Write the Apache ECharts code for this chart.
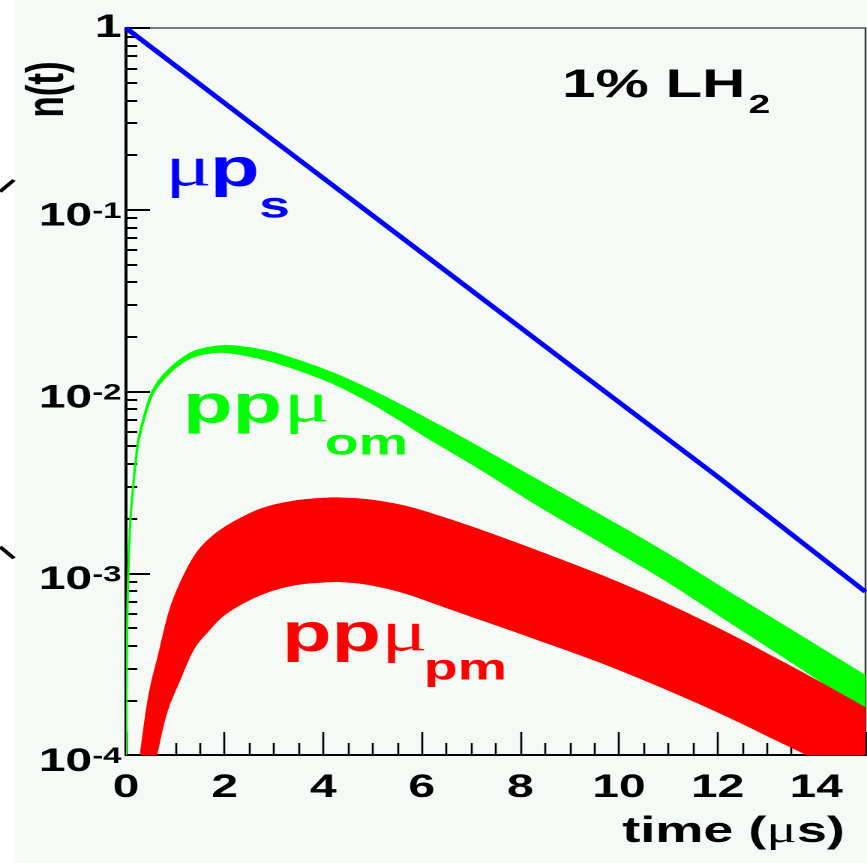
<!DOCTYPE html>
<html>
<head>
<meta charset="utf-8">
<script src="https://cdn.jsdelivr.net/npm/echarts@6/dist/echarts.min.js"></script>
<style>
  html, body { margin: 0; padding: 0; background: #ffffff; }
  #frame { position: relative; width: 867px; height: 863px; overflow: hidden; background: #f5faf7; }
  /* the plot is laid out on a narrow canvas and widened 1.5x, like the wide ROOT lettering */
  #chart { position: absolute; left: 0; top: 0; width: 578px; height: 863px;
           transform: scaleX(1.5); transform-origin: 0 0; }
</style>
</head>
<body>
<div id="frame"><div id="chart"></div></div>
<script>
// ---- muonic populations n(t) in 1% liquid hydrogen ----

// mu-p singlet atoms (straight exponential decay on the log scale)
const mupTime = [0, 3, 6, 9, 12, 15];
const mupN    = [1, 0.24, 0.058, 0.0140, 0.0034, 0.00079];

// ortho pp-mu molecules: upper / lower edge of the band
const omTime  = [0, 0.03, 0.08, 0.14, 0.22, 0.28, 0.42, 0.55, 0.75, 1.04, 1.36, 1.77, 2.17, 2.85,
                 3.46, 4.14, 4.81, 5.49, 6.16, 6.84, 7.51, 8.39, 9.61, 10.97, 12.30, 13.66, 15.0];
const omUpper = [1e-4, 6.6e-4, 1.77e-3, 2.94e-3, 4.77e-3, 5.91e-3, 8.22e-3, 0.0102, 0.0122, 0.0145,
                 0.0165, 0.0176, 0.01779, 0.01670, 0.01491, 0.01280, 0.01065, 0.00864, 0.00692,
                 0.00551, 0.00436, 0.00320, 0.00209, 0.00128, 0.000764, 0.000455, 0.000272];
const omLower = [1e-4, 6.35e-4, 1.73e-3, 2.87e-3, 4.62e-3, 5.73e-3, 7.91e-3, 0.0098, 0.0116, 0.0138,
                 0.0155, 0.0164, 0.01628, 0.01491, 0.01325, 0.01128, 0.00918, 0.00715, 0.00549,
                 0.00428, 0.00331, 0.00234, 0.00150, 0.000907, 0.000529, 0.000305, 0.000175];

// para pp-mu molecules: upper and lower edge of the band
const pmUpperTime = [0.30, 0.47, 0.68, 0.88, 1.08, 1.35, 1.62, 2.03, 2.70, 3.38, 4.05, 4.46, 5.01,
                     5.69, 6.37, 7.04, 7.72, 8.39, 9.07, 9.75, 10.42, 11.09, 11.77, 12.45, 13.12,
                     13.80, 15.0];
const pmUpper     = [1.0e-4, 2.09e-4, 3.64e-4, 6.04e-4, 8.44e-4, 1.18e-3, 1.47e-3, 1.80e-3, 2.23e-3,
                     2.48e-3, 2.58e-3, 2.58e-3, 2.51e-3, 2.323e-3, 2.047e-3, 1.780e-3, 1.529e-3,
                     1.309e-3, 1.114e-3, 9.43e-4, 7.90e-4, 6.53e-4, 5.33e-4, 4.31e-4, 3.45e-4,
                     2.75e-4, 1.81e-4];
const pmLowerTime = [0.61, 0.81, 1.08, 1.35, 1.62, 2.03, 2.70, 3.38, 4.05, 4.46, 5.01, 5.69, 6.37,
                     7.04, 7.72, 8.39, 9.07, 9.75, 10.42, 11.09, 11.77, 12.45, 13.12, 13.80, 15.0];
const pmLower     = [1.0e-4, 1.70e-4, 2.59e-4, 3.78e-4, 4.69e-4, 6.04e-4, 7.59e-4, 8.62e-4, 8.99e-4,
                     8.99e-4, 8.62e-4, 7.76e-4, 6.69e-4, 5.77e-4, 4.98e-4, 4.29e-4, 3.69e-4, 3.15e-4,
                     2.66e-4, 2.23e-4, 1.85e-4, 1.52e-4, 1.24e-4, 1.01e-4, 7.0e-5];

// axis ranges and log tick values
const timeRange = [0, 15];
const nRange = [1e-4, 1];
const nDecades = [1e-4, 1e-3, 1e-2, 1e-1, 1];
const nMinorTicks = [2e-4, 3e-4, 4e-4, 5e-4, 6e-4, 7e-4, 8e-4, 9e-4,
                     2e-3, 3e-3, 4e-3, 5e-3, 6e-3, 7e-3, 8e-3, 9e-3,
                     2e-2, 3e-2, 4e-2, 5e-2, 6e-2, 7e-2, 8e-2, 9e-2,
                     0.2, 0.3, 0.4, 0.5, 0.6, 0.7, 0.8, 0.9];

const SANS = '"Liberation Sans", Arial, Helvetica, sans-serif';
const SERIF = '"Liberation Serif", "Times New Roman", serif';
const BLUE = '#0000ff', GREEN = '#00ff00', RED = '#ff0000';

const zip = (xs, ys) => xs.map((x, i) => [x, ys[i]]);

// Catmull-Rom pass through pixel points so the band edges bend smoothly
function smoothEdge(pts, steps) {
  const out = [];
  const n = pts.length;
  for (let i = 0; i < n - 1; i++) {
    const p0 = pts[Math.max(i - 1, 0)], p1 = pts[i], p2 = pts[i + 1], p3 = pts[Math.min(i + 2, n - 1)];
    for (let s = 0; s < steps; s++) {
      const t = s / steps, t2 = t * t, t3 = t2 * t;
      out.push([0, 1].map(k => 0.5 * ((2 * p1[k]) + (-p0[k] + p2[k]) * t +
        (2 * p0[k] - 5 * p1[k] + 4 * p2[k] - p3[k]) * t2 +
        (-p0[k] + 3 * p1[k] - 3 * p2[k] + p3[k]) * t3)));
    }
  }
  out.push(pts[n - 1]);
  return out;
}

// closed band polygon: upper edge forward, lower edge backward
function bandSeries(name, upper, lower, color) {
  return {
    type: 'custom',
    name: name,
    coordinateSystem: 'cartesian2d',
    clip: true,
    silent: true,
    data: upper,
    encode: { x: 0, y: 1 },
    renderItem: function (params, api) {
      if (params.dataIndex !== 0) return null;
      const top = smoothEdge(upper.map(p => api.coord(p)), 8);
      const bottom = smoothEdge(lower.map(p => api.coord(p)), 8);
      return {
        type: 'polygon',
        shape: { points: top.concat(bottom.reverse()) },
        style: { fill: color, stroke: color, lineWidth: 1.5 }
      };
    }
  };
}

// tick-only companion axis in log10 units on the left edge
function logTickAxis(values, length) {
  return {
    type: 'value', min: Math.log10(nRange[0]), max: Math.log10(nRange[1]), position: 'left',
    axisLine: { show: false, onZero: false },
    axisLabel: { show: false },
    splitLine: { show: false },
    axisTick: {
      show: true, inside: true, length: length,
      customValues: values.map(v => Math.log10(v)),
      lineStyle: { color: '#000', width: 2 }
    }
  };
}

function label(x, y, text, size, color, family, weight) {
  return {
    type: 'text', x: x, y: y, z: 100,
    style: {
      text: text, fill: color, fontSize: size, fontFamily: family,
      fontWeight: weight || 'bold', align: 'left', verticalAlign: 'middle'
    }
  };
}

const chart = echarts.init(document.getElementById('chart'), null,
  { renderer: 'canvas', devicePixelRatio: 2 });

chart.setOption({
  animation: false,
  backgroundColor: 'transparent',
  grid: {
    show: true, left: 84, right: 1, top: 28, bottom: 108,
    borderColor: '#333', borderWidth: 1.2, backgroundColor: 'transparent'
  },
  xAxis: {
    type: 'value', min: timeRange[0], max: timeRange[1], interval: 2,
    axisLine: { show: true, onZero: false, lineStyle: { color: '#000', width: 2 } },
    axisTick: { show: true, inside: true, length: 23, lineStyle: { color: '#000', width: 1.3 } },
    minorTick: { show: true, splitNumber: 4, length: 12, lineStyle: { color: '#000', width: 1.3 } },
    splitLine: { show: false },
    axisLabel: {
      show: true, margin: 17, showMaxLabel: false,
      color: '#000', fontSize: 32, fontWeight: 'bold', fontFamily: SANS, lineHeight: 32
    }
  },
  yAxis: [
    {
      type: 'log', logBase: 10, min: nRange[0], max: nRange[1], position: 'left',
      axisLine: { show: true, onZero: false, lineStyle: { color: '#000', width: 2 } },
      axisTick: { show: true, inside: true, length: 16, lineStyle: { color: '#000', width: 2 } },
      splitLine: { show: false },
      axisLabel: {
        show: true, margin: 3, padding: [14, 0, 0, 0],
        formatter: function (v) {
          const e = Math.round(Math.log10(v));
          return e === 0 ? '{one|1}' : '{b|10}{s|' + e + '}';
        },
        rich: {
          one: { fontSize: 32, fontWeight: 'bold', fontFamily: SANS, color: '#000',
                 lineHeight: 32, padding: [0, 0, 14, 0] },
          b: { fontSize: 32, fontWeight: 'bold', fontFamily: SANS, color: '#000',
               lineHeight: 32, verticalAlign: 'bottom' },
          s: { fontSize: 22, fontWeight: 'bold', fontFamily: SANS, color: '#000',
               lineHeight: 22, padding: [0, 0, 15, 0], verticalAlign: 'top' }
        }
      }
    },
    logTickAxis(nDecades, 16),
    logTickAxis(nMinorTicks, 7.5)
  ],
  series: [
    bandSeries('ppμ om', zip(omTime, omUpper), zip(omTime, omLower), GREEN),
    bandSeries('ppμ pm', zip(pmUpperTime, pmUpper), zip(pmLowerTime, pmLower), RED),
    {
      type: 'line', name: 'μp s', data: zip(mupTime, mupN),
      showSymbol: false, symbol: 'none', silent: true, clip: true,
      lineStyle: { color: BLUE, width: 4 }
    }
  ],
  graphic: [
    { type: 'rect', z: -5, shape: { x: 0, y: 0, width: 9.3, height: 863 }, style: { fill: '#ffffff' } },
    { type: 'line', shape: { x1: 0, y1: 191.7, x2: 9.3, y2: 180 }, style: { stroke: '#000', lineWidth: 3 } },
    { type: 'line', shape: { x1: 0, y1: 546.7, x2: 9.3, y2: 558.3 }, style: { stroke: '#000', lineWidth: 3 } },

    // axis titles
    {
      type: 'text', x: 32.3, y: 89.5, rotation: Math.PI / 2, z: 100,
      style: { text: 'n(t)', fill: '#000', fontSize: 35, fontWeight: 'bold', fontFamily: SANS,
               align: 'center', verticalAlign: 'middle' }
    },
    {
      type: 'text', x: 563.3, y: 832, z: 100,
      style: {
        text: '{a|time (}{m|μ}{a|s)}', align: 'right', verticalAlign: 'middle',
        rich: {
          a: { fontSize: 36, fontWeight: 'bold', fontFamily: SANS, fill: '#000', color: '#000' },
          m: { fontSize: 38, fontWeight: 'normal', fontFamily: SERIF, fill: '#000', color: '#000' }
        }
      }
    },

    // sample label
    label(374.7, 86, '1% LH', 40, '#000', SANS),
    label(499, 106, '2', 26, '#000', SANS),

    // curve labels
    label(110, 170.4, 'μ', 58, BLUE, SERIF, 'normal'),
    label(140, 171.3, 'p', 54, BLUE, SANS),
    label(172.7, 207.2, 's', 37, BLUE, SANS),

    label(122, 407.6, 'pp', 54, GREEN, SANS),
    label(189, 406.4, 'μ', 58, GREEN, SERIF, 'normal'),
    label(216.5, 444.2, 'om', 37, GREEN, SANS),

    label(188, 636.3, 'pp', 54, RED, SANS),
    label(254, 635.4, 'μ', 58, RED, SERIF, 'normal'),
    label(282.5, 669.2, 'pm', 37, RED, SANS)
  ]
});
</script>
</body>
</html>
